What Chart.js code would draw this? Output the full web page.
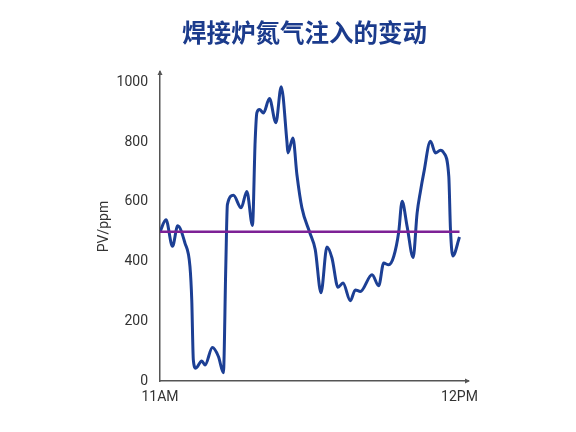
<!DOCTYPE html>
<html>
<head>
<meta charset="utf-8">
<script src="https://cdn.jsdelivr.net/npm/chart.js@4/dist/chart.umd.min.js"></script>
<style>
  html, body { margin: 0; padding: 0; background: #ffffff; }
  #wrap { width: 576px; height: 432px; }
</style>
</head>
<body>
<div id="wrap"><canvas id="c" width="576" height="432"></canvas></div>
<script>
const chartTitle = '焊接炉氮气注入的变动';
const yAxisTitle = 'PV/ppm';
const xTickValues = [0, 60];
const xTickLabels = ['11AM', '12PM'];
const yTickValues = [0, 200, 400, 600, 800, 1000];
// minutes after 11AM
const minutes = [0, 1.2, 2.5, 3.55, 5.0, 6.0, 6.36, 6.68, 7.16, 8.37, 9.03, 10.49, 11.7, 12.7, 13.18, 13.5,
  14.71, 16.25, 17.4, 18.52, 19.06, 19.4, 19.93, 20.73, 21.93, 23.22, 24.28, 25.42, 25.62, 26.63, 27.43,
  28.43, 29.96, 31.1, 32.25, 33.45, 34.45, 35.66, 36.66, 38.13, 39.13, 40.13, 42.48, 43.81, 44.81, 45.81,
  46.82, 47.82, 48.5, 49.5, 50.71, 51.51, 52.17, 52.84, 54.18, 55.18, 56.19, 56.85, 57.85, 58.19, 58.66, 60.0];
const pvValues = [500, 540, 451, 520, 462, 384, 272, 70, 43, 67, 54, 112, 82, 28, 384, 591,
  622, 580, 635, 521, 803, 898, 909, 898, 946, 865, 986, 803, 764, 814, 691,
  580, 499, 440, 296, 449, 412, 314, 328, 269, 305, 300, 356, 319, 395, 389,
  417, 499, 602, 518, 414, 563, 635, 697, 803, 764, 773, 764, 686, 507, 419, 482];
const targetMinutes = [0, 60];
const targetValues = [500, 500];

const pvPoints = minutes.map((m, i) => ({ x: m, y: pvValues[i] }));
const targetPoints = targetMinutes.map((m, i) => ({ x: m, y: targetValues[i] }));

const axisColor = '#555555';

const decorPlugin = {
  id: 'decor',
  afterDraw(chart) {
    const { ctx, chartArea } = chart;
    ctx.save();
    // title
    ctx.fillStyle = '#1b3b8c';
    ctx.font = 'bold 24.5px "Noto Sans CJK SC", sans-serif';
    ctx.textAlign = 'center';
    ctx.textBaseline = 'middle';
    ctx.fillText(chartTitle, 304.5, 33);
    // arrows
    ctx.fillStyle = axisColor;
    ctx.beginPath();
    ctx.moveTo(chartArea.left, chartArea.top - 2);
    ctx.lineTo(chartArea.left - 2.5, chartArea.top + 3);
    ctx.lineTo(chartArea.left + 2.5, chartArea.top + 3);
    ctx.closePath();
    ctx.fill();
    ctx.beginPath();
    ctx.moveTo(chartArea.right + 2, chartArea.bottom);
    ctx.lineTo(chartArea.right - 3, chartArea.bottom - 2.5);
    ctx.lineTo(chartArea.right - 3, chartArea.bottom + 2.5);
    ctx.closePath();
    ctx.fill();
    ctx.restore();
  }
};

new Chart(document.getElementById('c'), {
  type: 'line',
  data: {
    datasets: [
      {
        label: 'PV',
        data: pvPoints,
        borderColor: '#1c3f94',
        borderWidth: 3,
        pointRadius: 0,
        fill: false,
        cubicInterpolationMode: 'monotone',
        order: 2
      },
      {
        label: 'SV',
        data: targetPoints,
        borderColor: '#7d2196',
        borderWidth: 2.5,
        pointRadius: 0,
        fill: false,
        order: 1
      }
    ]
  },
  options: {
    responsive: false,
    animation: false,
    devicePixelRatio: 1,
    layout: { padding: { left: 0, right: 108, top: 72, bottom: 0 } },
    plugins: {
      legend: { display: false },
      tooltip: { enabled: false },
      title: { display: false }
    },
    scales: {
      x: {
        type: 'linear',
        min: 0,
        max: 61.7,
        afterBuildTicks(scale) { scale.ticks = xTickValues.map(v => ({ value: v })); },
        afterFit(scale) { scale.height = 51; },
        grid: { display: false, drawTicks: false },
        border: { display: true, color: axisColor, width: 1.5 },
        ticks: {
          padding: 8,
          color: '#333333',
          font: { family: 'Roboto, sans-serif', size: 14 },
          maxRotation: 0,
          autoSkip: false,
          callback(value) { const i = xTickValues.indexOf(value); return i >= 0 ? xTickLabels[i] : ''; }
        }
      },
      y: {
        type: 'linear',
        min: 0,
        max: 1035,
        afterBuildTicks(scale) { scale.ticks = yTickValues.map(v => ({ value: v })); },
        afterFit(scale) { scale.width = 160; },
        grid: { display: false, drawTicks: false },
        border: { display: true, color: axisColor, width: 1.5 },
        title: {
          display: true,
          text: yAxisTitle,
          color: '#333333',
          font: { family: 'Roboto, sans-serif', size: 14 },
          padding: { top: 96, bottom: 0 }
        },
        ticks: {
          padding: 12,
          color: '#333333',
          font: { family: 'Roboto, sans-serif', size: 14 },
          autoSkip: false,
          callback(value) { return String(value); }
        }
      }
    }
  },
  plugins: [decorPlugin]
});
</script>
</body>
</html>
